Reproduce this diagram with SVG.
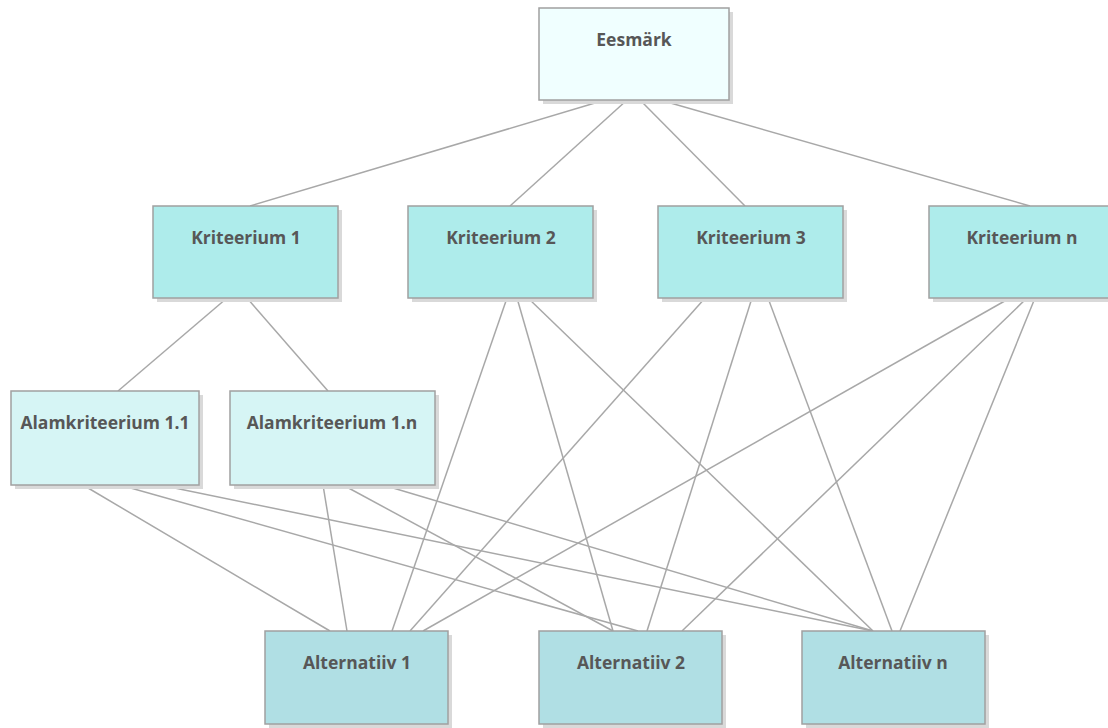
<svg xmlns="http://www.w3.org/2000/svg" width="1108" height="728" viewBox="0 0 1108 728">
<defs>
<style>
.sh{fill:#d9d9d9}
.bx{stroke:#a0a0a0;stroke-width:1.5}
.g{fill:#f0ffff}
.k{fill:#aeeceb}
.a{fill:#d6f5f5}
.l{fill:#b0dfe4}
.t{font-family:"Open Sans","Liberation Sans",sans-serif;font-weight:bold;font-size:17.5px;fill:#575757;text-anchor:middle}
#connectors line{stroke:#a8a8a8;stroke-width:1.5}
</style>
</defs>
<rect width="1108" height="728" fill="#ffffff"/>
<g id="connectors">
<line x1="605" y1="100" x2="250" y2="206"/>
<line x1="627" y1="100" x2="510" y2="206"/>
<line x1="640" y1="100" x2="745" y2="206"/>
<line x1="660" y1="100" x2="1030" y2="206"/>
<line x1="227" y1="298" x2="118" y2="391"/>
<line x1="247" y1="298" x2="328" y2="391"/>
<line x1="507" y1="298" x2="392" y2="631"/>
<line x1="517" y1="298" x2="613" y2="631"/>
<line x1="528" y1="298" x2="873" y2="631"/>
<line x1="705" y1="298" x2="410" y2="631"/>
<line x1="752" y1="298" x2="647" y2="631"/>
<line x1="768" y1="298" x2="892" y2="631"/>
<line x1="1010" y1="298" x2="423" y2="631"/>
<line x1="1027" y1="298" x2="682" y2="631"/>
<line x1="1035" y1="298" x2="900" y2="631"/>
<line x1="83" y1="485" x2="330" y2="631"/>
<line x1="120" y1="485" x2="638" y2="631"/>
<line x1="160" y1="485" x2="873" y2="631"/>
<line x1="323" y1="485" x2="347" y2="631"/>
<line x1="343" y1="485" x2="613" y2="631"/>
<line x1="383" y1="485" x2="873" y2="631"/>
</g>
<g id="eesmark">
<rect class="sh" x="543" y="12" width="190" height="92"/>
<rect class="bx g" x="539" y="8" width="190" height="92"/>
<text class="t" x="634" y="46">Eesmärk</text>
</g>
<g id="kriteerium1">
<rect class="sh" x="157" y="210" width="185" height="92"/>
<rect class="bx k" x="153" y="206" width="185" height="92"/>
<text class="t" x="246" y="244">Kriteerium 1</text>
</g>
<g id="kriteerium2">
<rect class="sh" x="412" y="210" width="185" height="92"/>
<rect class="bx k" x="408" y="206" width="185" height="92"/>
<text class="t" x="501" y="244">Kriteerium 2</text>
</g>
<g id="kriteerium3">
<rect class="sh" x="662" y="210" width="185" height="92"/>
<rect class="bx k" x="658" y="206" width="185" height="92"/>
<text class="t" x="751" y="244">Kriteerium 3</text>
</g>
<g id="kriteeriumn">
<rect class="sh" x="933" y="210" width="185" height="92"/>
<rect class="bx k" x="929" y="206" width="185" height="92"/>
<text class="t" x="1022" y="244">Kriteerium n</text>
</g>
<g id="alam11">
<rect class="sh" x="15" y="395" width="188" height="94"/>
<rect class="bx a" x="11" y="391" width="188" height="94"/>
<text class="t" x="105" y="429">Alamkriteerium 1.1</text>
</g>
<g id="alam1n">
<rect class="sh" x="234" y="395" width="205" height="94"/>
<rect class="bx a" x="230" y="391" width="205" height="94"/>
<text class="t" x="332" y="429">Alamkriteerium 1.n</text>
</g>
<g id="alternatiiv1">
<rect class="sh" x="269" y="635" width="183" height="93"/>
<rect class="bx l" x="265" y="631" width="183" height="93"/>
<text class="t" x="357" y="669">Alternatiiv 1</text>
</g>
<g id="alternatiiv2">
<rect class="sh" x="543" y="635" width="183" height="93"/>
<rect class="bx l" x="539" y="631" width="183" height="93"/>
<text class="t" x="631" y="669">Alternatiiv 2</text>
</g>
<g id="alternatiivn">
<rect class="sh" x="806" y="635" width="183" height="93"/>
<rect class="bx l" x="802" y="631" width="183" height="93"/>
<text class="t" x="893" y="669">Alternatiiv n</text>
</g>
</svg>
